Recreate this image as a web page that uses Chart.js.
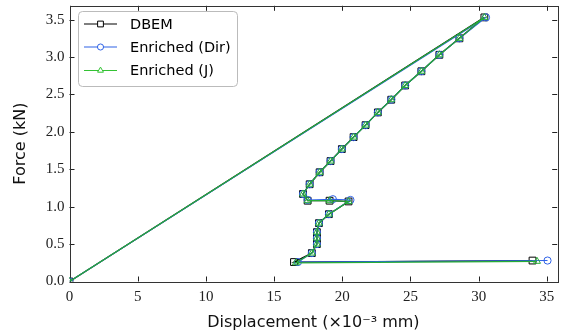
<!DOCTYPE html>
<html>
<head>
<meta charset="utf-8">
<script src="https://cdn.jsdelivr.net/npm/chart.js@4/dist/chart.umd.min.js"></script>
<style>
  html, body { margin: 0; padding: 0; background: #fff; }
  #wrap { width: 563px; height: 334px; }
</style>
</head>
<body>
<div id="wrap"><canvas id="c" width="563" height="334"></canvas></div>
<script>
// ---- data ----
const seriesNames = ['DBEM', 'Enriched (Dir)', 'Enriched (J)'];

const dbemX = [0, 30.42, 28.59, 27.12, 25.80, 24.61, 23.59, 22.61, 21.71, 20.83, 19.97, 19.14, 18.34, 17.61, 17.12, 17.46, 19.07, 20.46, 19.02, 18.29, 18.14, 18.14, 18.14, 17.77, 16.46, 33.95];
const dbemY = [0, 3.53, 3.25, 3.03, 2.81, 2.62, 2.43, 2.26, 2.09, 1.93, 1.77, 1.61, 1.46, 1.30, 1.17, 1.08, 1.08, 1.07, 0.90, 0.78, 0.66, 0.58, 0.50, 0.38, 0.26, 0.28];

const dirX = [0, 30.54, 28.59, 27.12, 25.80, 24.61, 23.59, 22.61, 21.71, 20.83, 19.97, 19.14, 18.34, 17.61, 17.12, 17.46, 19.31, 20.60, 19.02, 18.29, 18.14, 18.14, 18.14, 17.77, 16.75, 35.05];
const dirY = [0, 3.53, 3.25, 3.03, 2.81, 2.62, 2.43, 2.26, 2.09, 1.93, 1.77, 1.61, 1.46, 1.30, 1.17, 1.09, 1.10, 1.09, 0.90, 0.78, 0.66, 0.58, 0.50, 0.38, 0.26, 0.28];

const jX = [0, 30.42, 28.59, 27.12, 25.80, 24.61, 23.59, 22.61, 21.71, 20.83, 19.97, 19.14, 18.34, 17.61, 17.12, 17.46, 19.07, 20.46, 19.02, 18.29, 18.14, 18.14, 18.14, 17.77, 16.60, 34.28];
const jY = [0, 3.53, 3.25, 3.03, 2.81, 2.62, 2.43, 2.26, 2.09, 1.93, 1.77, 1.61, 1.46, 1.30, 1.17, 1.08, 1.08, 1.07, 0.90, 0.78, 0.66, 0.58, 0.50, 0.38, 0.25, 0.27];

const xTickValues = [0, 5, 10, 15, 20, 25, 30, 35];
const yTickValues = [0.0, 0.5, 1.0, 1.5, 2.0, 2.5, 3.0, 3.5];

const xTitle = 'Displacement (×10⁻³ mm)';
const yTitle = 'Force (kN)';

// ---- styling ----
const colors = ['#000000', '#2f62e6', '#27ad36'];
const pointStyles = ['rect', 'circle', 'triangle'];
const pointRadii = [4.8, 3.6, 4.0];
const lineWidths = [1.3, 1.1, 1.2];

function pts(xs, ys) { return xs.map((x, i) => ({ x: x, y: ys[i] })); }

const datasets = [
  { label: seriesNames[0], data: pts(dbemX, dbemY), order: 2 },
  { label: seriesNames[1], data: pts(dirX, dirY), order: 1 },
  { label: seriesNames[2], data: pts(jX, jY), order: 0 }
].map((d, i) => Object.assign(d, {
  borderColor: colors[i],
  backgroundColor: 'rgba(0,0,0,0)',
  pointBorderColor: colors[i],
  pointBackgroundColor: 'rgba(0,0,0,0)',
  pointStyle: pointStyles[i],
  pointRadius: pointRadii[i],
  pointBorderWidth: 1,
  borderWidth: lineWidths[i],
  showLine: true,
  tension: 0,
  fill: false
}));

const frameTicks = {
  id: 'frameTicks',
  beforeDatasetsDraw(chart) {
    const ctx = chart.ctx, a = chart.chartArea;
    const xs = chart.scales.x, ys = chart.scales.y;
    ctx.save();
    ctx.strokeStyle = '#222';
    ctx.lineWidth = 1;
    ctx.beginPath();
    xTickValues.forEach(v => {
      const p = Math.round(xs.getPixelForValue(v)) + 0.5;
      ctx.moveTo(p, a.bottom); ctx.lineTo(p, a.bottom - 5);
      ctx.moveTo(p, a.top); ctx.lineTo(p, a.top + 5);
    });
    yTickValues.forEach(v => {
      const p = Math.round(ys.getPixelForValue(v)) + 0.5;
      ctx.moveTo(a.left, p); ctx.lineTo(a.left + 5, p);
      ctx.moveTo(a.right, p); ctx.lineTo(a.right - 5, p);
    });
    ctx.stroke();
    ctx.strokeStyle = '#333';
    ctx.strokeRect(Math.round(a.left) + 0.5, Math.round(a.top) + 0.5,
                   Math.round(a.right - a.left), Math.round(a.bottom - a.top));
    ctx.restore();
  }
};

const customLegend = {
  id: 'customLegend',
  afterDraw(chart) {
    const ctx = chart.ctx;
    const bx = 78.5, by = 11.5, bw = 159, bh = 75, r = 4;
    ctx.save();
    ctx.fillStyle = 'rgba(255,255,255,0.85)';
    ctx.strokeStyle = '#bbbbbb';
    ctx.lineWidth = 1;
    ctx.beginPath();
    ctx.moveTo(bx + r, by);
    ctx.arcTo(bx + bw, by, bx + bw, by + bh, r);
    ctx.arcTo(bx + bw, by + bh, bx, by + bh, r);
    ctx.arcTo(bx, by + bh, bx, by, r);
    ctx.arcTo(bx, by, bx + bw, by, r);
    ctx.closePath();
    ctx.fill();
    ctx.stroke();
    const rowY = [24, 47, 70.5];
    const legendColors = ['#000000', '#2f62e6', '#33c233'];
    chart.data.datasets.forEach((d, i) => {
      const y = rowY[i];
      ctx.strokeStyle = legendColors[i];
      ctx.lineWidth = 1.2;
      ctx.beginPath();
      ctx.moveTo(84, y); ctx.lineTo(117, y);
      ctx.stroke();
      ctx.fillStyle = '#ffffff';
      ctx.strokeStyle = legendColors[i];
      ctx.lineWidth = 1;
      Chart.helpers.drawPoint(ctx, {
        pointStyle: d.pointStyle, radius: d.pointRadius * 0.85, borderWidth: 1, rotation: 0
      }, 100.5, y);
      ctx.fillStyle = '#000';
      ctx.font = '14.5px "DejaVu Sans"';
      ctx.textBaseline = 'middle';
      ctx.fillText(d.label, 130, y + 1);
    });
    ctx.restore();
  }
};

new Chart(document.getElementById('c'), {
  type: 'scatter',
  data: { datasets: datasets },
  plugins: [frameTicks, customLegend],
  options: {
    responsive: false,
    animation: false,
    devicePixelRatio: 1,
    layout: { padding: { top: 5, right: 5, left: 0, bottom: 0 } },
    plugins: { legend: { display: false }, tooltip: { enabled: false } },
    scales: {
      x: {
        type: 'linear', min: 0, max: 35.76,
        grid: { display: false, drawTicks: false },
        border: { display: false },
        afterFit(s) { s.height = 52.5; s.paddingLeft = 0; s.paddingRight = 0; },
        afterBuildTicks(s) { s.ticks = xTickValues.map(v => ({ value: v })); },
        ticks: {
          includeBounds: false, stepSize: 5, maxRotation: 0, padding: 7,
          color: '#222',
          font: { family: '"Liberation Serif"', size: 15 },
          callback: v => String(v)
        },
        title: {
          display: true, text: xTitle, color: '#111',
          font: { family: '"DejaVu Sans"', size: 16 },
          padding: { top: 0, bottom: 2 }
        }
      },
      y: {
        type: 'linear', min: 0, max: 3.685,
        grid: { display: false, drawTicks: false },
        border: { display: false },
        afterFit(s) { s.width = 69.5; s.paddingTop = 0; s.paddingBottom = 0; },
        afterBuildTicks(s) { s.ticks = yTickValues.map(v => ({ value: v })); },
        ticks: {
          includeBounds: false, padding: 5,
          color: '#222',
          font: { family: '"Liberation Serif"', size: 15 },
          callback: v => Number(v).toFixed(1)
        },
        title: {
          display: true, text: yTitle, color: '#111',
          font: { family: '"DejaVu Sans"', size: 16 },
          padding: { top: 11, bottom: 0 }
        }
      }
    }
  }
});
</script>
</body>
</html>
